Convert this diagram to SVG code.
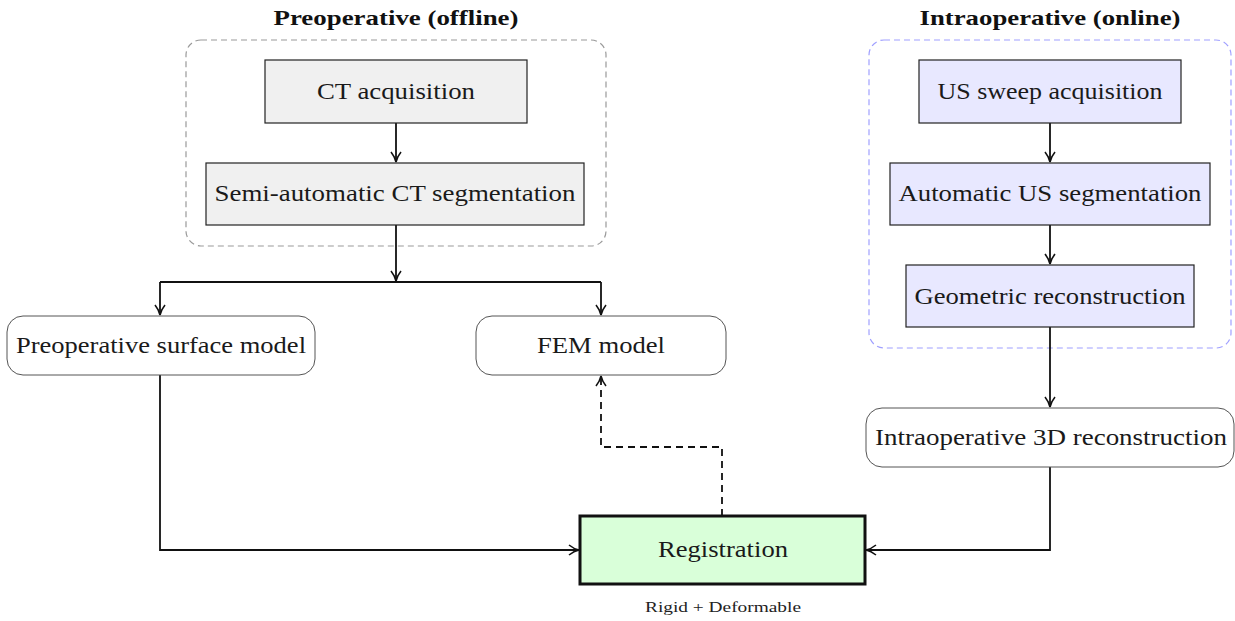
<svg xmlns="http://www.w3.org/2000/svg" width="1235" height="621" viewBox="0 0 1235 621">
<style>
.t{font-family:"Liberation Serif","DejaVu Serif",serif;font-size:24px;fill:#1a1a1a;text-anchor:middle}
.h{font-family:"Liberation Serif","DejaVu Serif",serif;font-size:21px;font-weight:bold;fill:#111;text-anchor:middle}
.s{font-family:"Liberation Serif","DejaVu Serif",serif;font-size:15px;fill:#222;text-anchor:middle}
.gray{fill:#f0f0f0;stroke:#222;stroke-width:1.2}
.blue{fill:#e8e8ff;stroke:#222;stroke-width:1.2}
.rnd{fill:#fff;stroke:#555;stroke-width:1}
.c{fill:none;stroke:#111;stroke-width:1.8}
</style>
<defs>
<marker id="ah" viewBox="0 0 12 12" refX="11" refY="6" markerWidth="12" markerHeight="12" markerUnits="userSpaceOnUse" orient="auto">
<path d="M1,1 Q6,5 11,6 Q6,7 1,11" fill="none" stroke="#111" stroke-width="1.6"/>
</marker>
</defs>
<rect width="1235" height="621" fill="#fff"/>
<g id="preop-group">
<rect x="186" y="40" width="420" height="206" rx="15" fill="none" stroke="#999" stroke-width="1.2" stroke-dasharray="6,4"/>
<text class="h" x="396" y="25" textLength="245" lengthAdjust="spacingAndGlyphs">Preoperative (offline)</text>
</g>
<g id="intraop-group">
<rect x="869" y="40" width="362" height="308" rx="15" fill="none" stroke="#a0a0ff" stroke-width="1.2" stroke-dasharray="6,4"/>
<text class="h" x="1050" y="25" textLength="261" lengthAdjust="spacingAndGlyphs">Intraoperative (online)</text>
</g>
<g id="connectors">
<path class="c" d="M396,123 V162" marker-end="url(#ah)"/>
<path class="c" d="M396,225 V281" marker-end="url(#ah)"/>
<path class="c" d="M160,282 H601"/>
<path class="c" d="M160,282 V315" marker-end="url(#ah)"/>
<path class="c" d="M601,282 V315" marker-end="url(#ah)"/>
<path class="c" d="M1050,123 V162" marker-end="url(#ah)"/>
<path class="c" d="M1050,225 V264" marker-end="url(#ah)"/>
<path class="c" d="M1050,327 V407" marker-end="url(#ah)"/>
<path class="c" d="M160,375 V550 H579" marker-end="url(#ah)"/>
<path class="c" d="M1050,467 V550 H866" marker-end="url(#ah)"/>
<path class="c" d="M722,516 V447 H601 V376" stroke-dasharray="7,5" marker-end="url(#ah)"/>
</g>
<g id="ct-acq">
<rect class="gray" x="265" y="60" width="262" height="63"/>
<text class="t" x="396" y="99" textLength="158" lengthAdjust="spacingAndGlyphs">CT acquisition</text>
</g>
<g id="ct-seg">
<rect class="gray" x="206" y="163" width="378" height="62"/>
<text class="t" x="395" y="201" textLength="361" lengthAdjust="spacingAndGlyphs">Semi-automatic CT segmentation</text>
</g>
<g id="us-sweep">
<rect class="blue" x="919" y="60" width="262" height="63"/>
<text class="t" x="1050" y="99" textLength="225" lengthAdjust="spacingAndGlyphs">US sweep acquisition</text>
</g>
<g id="us-seg">
<rect class="blue" x="890" y="163" width="320" height="62"/>
<text class="t" x="1050" y="201" textLength="303" lengthAdjust="spacingAndGlyphs">Automatic US segmentation</text>
</g>
<g id="geo-rec">
<rect class="blue" x="906" y="265" width="288" height="62"/>
<text class="t" x="1050" y="304" textLength="271" lengthAdjust="spacingAndGlyphs">Geometric reconstruction</text>
</g>
<g id="preop-surface">
<rect class="rnd" x="7" y="316" width="308" height="59" rx="16"/>
<text class="t" x="161" y="353" textLength="290" lengthAdjust="spacingAndGlyphs">Preoperative surface model</text>
</g>
<g id="fem">
<rect class="rnd" x="476" y="316" width="250" height="59" rx="16"/>
<text class="t" x="601" y="353" textLength="128" lengthAdjust="spacingAndGlyphs">FEM model</text>
</g>
<g id="intraop-3d">
<rect class="rnd" x="866" y="408" width="368" height="59" rx="16"/>
<text class="t" x="1051" y="445" textLength="352" lengthAdjust="spacingAndGlyphs">Intraoperative 3D reconstruction</text>
</g>
<g id="registration">
<rect x="580" y="516" width="285" height="68" fill="#d9ffd9" stroke="#111" stroke-width="3"/>
<text class="t" x="723" y="557" textLength="130" lengthAdjust="spacingAndGlyphs">Registration</text>
<text class="s" x="723" y="612" textLength="156" lengthAdjust="spacingAndGlyphs">Rigid + Deformable</text>
</g>
</svg>
